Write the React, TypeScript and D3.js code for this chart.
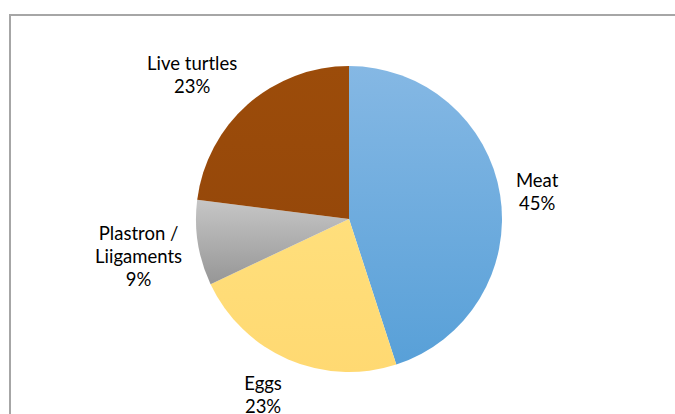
import React from "react";
import * as d3 from "d3";

const categories = ["Meat", "Eggs", "Plastron / Liigaments", "Live turtles"];
const labelLines = [["Meat"], ["Eggs"], ["Plastron /", "Liigaments"], ["Live turtles"]];
const values = [45, 23, 9, 23];
const percentLabels = ["45%", "23%", "9%", "23%"];
const gradTop = ["#85b8e4", "#ffdf7c", "#c6c6c6", "#9c4c0a"];
const gradBottom = ["#58a0d8", "#ffd972", "#969696", "#96480a"];

const W = 675;
const H = 414;
const cx = 349;
const cy = 219;
const R = 153;
const lineH = 23;
const fontSize = 18.5;
const fontFamily = "Lato, 'Open Sans', sans-serif";

let ctx: CanvasRenderingContext2D | null = null;
function textWidth(t: string): number {
  if (!ctx) {
    const c = document.createElement("canvas");
    ctx = c.getContext("2d");
  }
  if (!ctx) return t.length * fontSize * 0.48;
  ctx.font = `${fontSize}px ${fontFamily}`;
  return ctx.measureText(t).width;
}

export default function App() {
  const pie = d3.pie<number>().sort(null).value((d) => d);
  const arcs = pie(values);
  const arc = d3.arc<d3.PieArcDatum<number>>().innerRadius(0).outerRadius(R);

  return (
    <svg
      width={W}
      height={H}
      style={{ position: "absolute", left: 0, top: 0, background: "#fff" }}
      fontFamily={fontFamily}
    >
      <defs>
        {categories.map((c, i) => (
          <linearGradient key={c} id={`g${i}`} x1="0" y1="0" x2="0" y2="1">
            <stop offset="0" stopColor={gradTop[i]} />
            <stop offset="1" stopColor={gradBottom[i]} />
          </linearGradient>
        ))}
      </defs>
      <rect x={10} y={15} width={800} height={600} fill="none" stroke="#a6a6a6" strokeWidth={2} />
      <g transform={`translate(${cx},${cy})`}>
        {arcs.map((a, i) => (
          <path key={i} d={arc(a) || ""} fill={`url(#g${i})`} />
        ))}
      </g>
      {arcs.map((a, i) => {
        const mid = (a.startAngle + a.endAngle) / 2;
        const s = Math.sin(mid);
        const c = Math.cos(mid);
        const px = cx + (R + 16) * s;
        const py = cy - (R + 16) * c;
        const lines = [...labelLines[i], percentLabels[i]];
        const w = Math.max(...lines.map((l) => textWidth(l)));
        const hp = 2 * lineH;
        const lx = px + (w / 2) * Math.sign(s);
        const top = py - (hp / 2) * c - hp / 2 + (lines.length > 2 ? -4 : 2 * c * c * c > 0 && Math.abs(c) < 0.5 ? 3 : 0);
        return (
          <text key={i} textAnchor="middle" fontSize={fontSize} fill="#000">
            {lines.map((l, j) => (
              <tspan key={j} x={lx} y={top + lineH * j + 18}>
                {l}
              </tspan>
            ))}
          </text>
        );
      })}
    </svg>
  );
}
